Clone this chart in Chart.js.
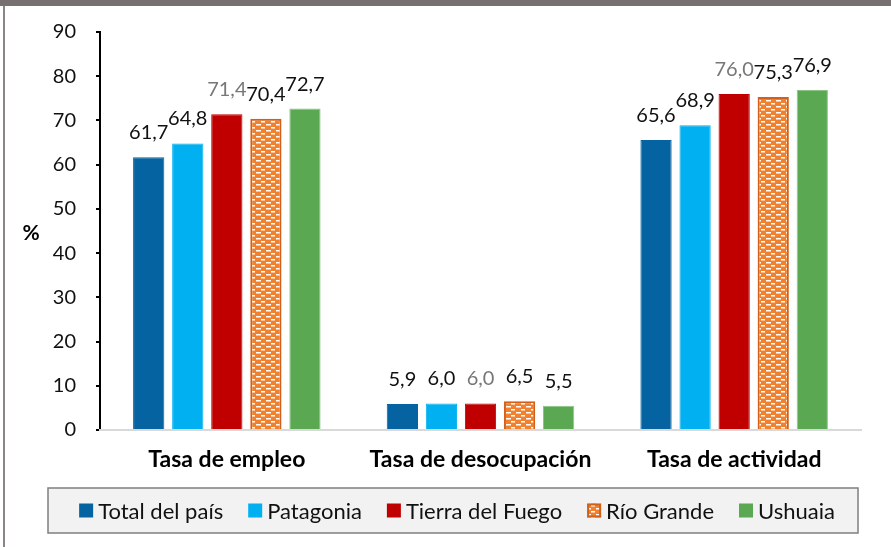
<!DOCTYPE html>
<html>
<head>
<meta charset="utf-8">
<script src="https://cdn.jsdelivr.net/npm/chart.js@4.4.1/dist/chart.umd.min.js"></script>
<style>
  html, body { margin: 0; padding: 0; background: #fff; }
  #wrap { position: relative; width: 891px; height: 547px; }
  #topband { position: absolute; left: 0; top: 0; width: 891px; height: 6px; background: #767170; }
  #leftline { position: absolute; left: 3px; top: 6px; width: 2px; height: 541px; background: #8a8686; }
</style>
</head>
<body>
<div id="wrap">
  <canvas id="tasasChart" width="891" height="547"></canvas>
  <div id="topband"></div>
  <div id="leftline"></div>
</div>
<script>
const categories = ["Tasa de empleo", "Tasa de desocupación", "Tasa de actividad"];
const seriesNames = ["Total del país", "Patagonia", "Tierra del Fuego", "Río Grande", "Ushuaia"];
const totalPais = [61.7, 5.9, 65.6];
const patagonia = [64.8, 6.0, 68.9];
const tierraFuego = [71.4, 6.0, 76.0];
const rioGrande = [70.4, 6.5, 75.3];
const ushuaia = [72.7, 5.5, 76.9];
const yTicks = [0, 10, 20, 30, 40, 50, 60, 70, 80, 90];

const FONT = "Lato, 'Open Sans', sans-serif";

// ladrillos blancos sobre naranja para Río Grande
function brickPattern() {
  const c = document.createElement("canvas");
  c.width = 10;
  c.height = 6;
  const g = c.getContext("2d");
  g.fillStyle = "#f0822f";
  g.fillRect(0, 0, 10, 6);
  g.fillStyle = "#ffffff";
  g.fillRect(1, 1, 4, 1.5);
  g.fillRect(6, 4, 4, 1.5);
  g.fillRect(0, 4, 1, 1.5);
  return g.createPattern(c, "repeat");
}

const fills = ["#0563a1", "#00b0f0", "#c00000", brickPattern(), "#5aa852"];
const borders = ["#0563a1", "#00b0f0", "#c00000", "#d2601a", "#8cc486"];
const labelColors = ["#111", "#111", "#777", "#111", "#111"];
const seriesData = [totalPais, patagonia, tierraFuego, rioGrande, ushuaia];

const fmt = (v) => v.toFixed(1).replace(".", ",");

// etiquetas de valor sobre cada barra
const valueLabels = {
  id: "valueLabels",
  afterDatasetsDraw(chart) {
    const ctx = chart.ctx;
    ctx.save();
    ctx.font = "20px " + FONT;
    ctx.textAlign = "center";
    ctx.textBaseline = "alphabetic";
    chart.data.datasets.forEach((ds, i) => {
      const meta = chart.getDatasetMeta(i);
      ctx.fillStyle = labelColors[i];
      meta.data.forEach((bar, j) => {
        ctx.fillText(fmt(ds.data[j]), bar.x, bar.y - 18);
      });
    });
    ctx.restore();
  }
};

// leyenda en caja gris, más el "%" del eje
const boxLegend = {
  id: "boxLegend",
  afterDraw(chart) {
    const ctx = chart.ctx;
    const sq = 14, gapText = 5, gapItem = 25;
    const x0 = 48, x1 = 858, top = 488, h = 45;
    const cy = top + h / 2;

    ctx.save();
    ctx.fillStyle = "#f2f2f2";
    ctx.fillRect(x0, top, x1 - x0, h);
    ctx.strokeStyle = "#7f7f7f";
    ctx.lineWidth = 1.5;
    ctx.strokeRect(x0, top, x1 - x0, h);

    ctx.font = "22px " + FONT;
    const widths = chart.data.datasets.map((ds) => ctx.measureText(ds.label).width);
    const total = widths.reduce((a, w) => a + sq + gapText + w, 0) + gapItem * (widths.length - 1);
    let x = 457 - total / 2;
    ctx.textBaseline = "middle";
    ctx.textAlign = "left";
    chart.data.datasets.forEach((ds, i) => {
      ctx.fillStyle = ds.backgroundColor;
      ctx.fillRect(x, cy - sq / 2, sq, sq);
      if (i === 3) {
        ctx.strokeStyle = ds.borderColor;
        ctx.lineWidth = 2;
        ctx.strokeRect(x + 1, cy - sq / 2 + 1, sq - 2, sq - 2);
      }
      ctx.fillStyle = "#111";
      ctx.fillText(ds.label, x + sq + gapText, cy + 1);
      x += sq + gapText + widths[i] + gapItem;
    });

    const area = chart.chartArea;
    ctx.font = "bold 21px " + FONT;
    ctx.fillStyle = "#000";
    ctx.textAlign = "center";
    ctx.fillText("%", 31, (area.top + area.bottom) / 2 + 2);
    ctx.restore();
  }
};

new Chart(document.getElementById("tasasChart"), {
  type: "bar",
  data: {
    labels: categories,
    datasets: seriesNames.map((name, i) => ({
      label: name,
      data: seriesData[i],
      backgroundColor: fills[i],
      borderColor: borders[i],
      borderWidth: i === 3 ? 2 : 1,
      categoryPercentage: 0.77,
      barPercentage: 0.8,
    })),
  },
  options: {
    responsive: false,
    animation: false,
    layout: { padding: { top: 19, right: 30, left: 53, bottom: 67 } },
    plugins: {
      legend: { display: false },
      tooltip: { enabled: false },
    },
    scales: {
      y: {
        min: 0,
        max: 90,
        afterBuildTicks: (scale) => {
          scale.ticks = yTicks.map((v) => ({ value: v }));
        },
        afterFit: (scale) => {
          scale.width = 47;
        },
        ticks: {
          font: { family: FONT, size: 20 },
          color: "#111",
          padding: 20,
        },
        grid: {
          drawOnChartArea: false,
          drawTicks: true,
          tickLength: 4,
          color: "#000",
          lineWidth: 2,
        },
        border: { color: "#000", width: 2 },
      },
      x: {
        afterFit: (scale) => {
          scale.height = 50;
        },
        grid: { display: false },
        border: { color: "#d9d9d9", width: 2 },
        ticks: {
          font: { family: FONT, size: 23, weight: "bold" },
          color: "#000",
          padding: 8,
        },
      },
    },
  },
  plugins: [valueLabels, boxLegend],
});
</script>
</body>
</html>
